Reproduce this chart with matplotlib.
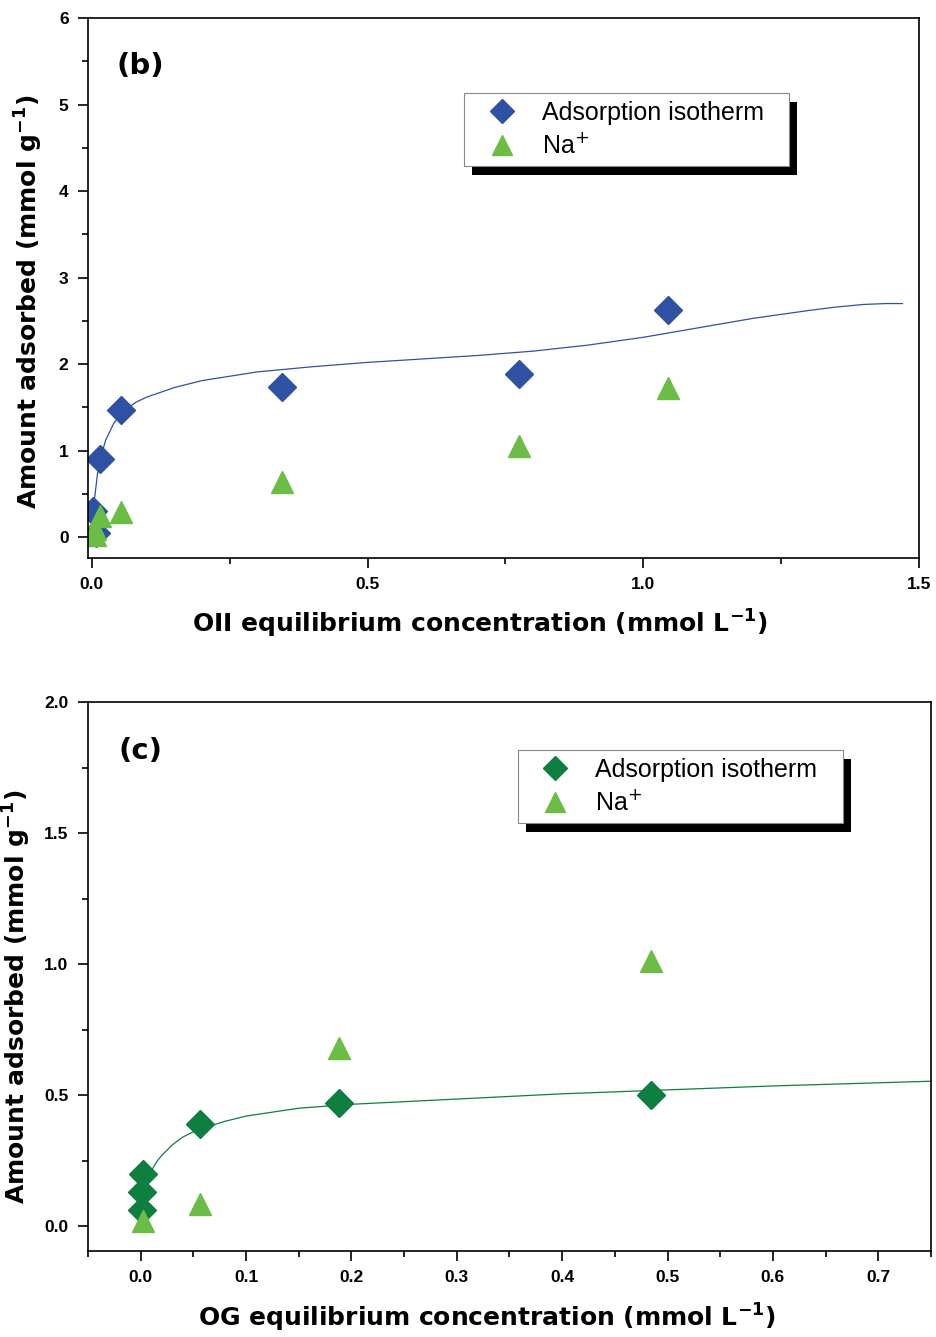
import matplotlib.pyplot as plt
from matplotlib.patches import Rectangle
from matplotlib.ticker import MultipleLocator

# panel (b): OII
b_iso_x = [1.045, 0.775, 0.345, 0.052, 0.015, 0.003, 0.008]
b_iso_y = [2.62, 1.89, 1.74, 1.47, 0.90, 0.30, 0.05]
b_na_x = [1.045, 0.775, 0.345, 0.052, 0.015, 0.006, 0.005]
b_na_y = [1.72, 1.05, 0.64, 0.29, 0.24, 0.09, 0.03]
b_fit_x = [0.002, 0.005, 0.010, 0.015, 0.025, 0.04, 0.06, 0.08, 0.10, 0.15, 0.20,
           0.30, 0.40, 0.50, 0.60, 0.70, 0.80, 0.90, 1.00, 1.10, 1.20, 1.30,
           1.35, 1.40, 1.44, 1.47]
b_fit_y = [0.15, 0.45, 0.72, 0.90, 1.12, 1.32, 1.47, 1.56, 1.62, 1.73, 1.81,
           1.91, 1.97, 2.02, 2.06, 2.10, 2.15, 2.22, 2.31, 2.42, 2.53, 2.62,
           2.66, 2.69, 2.70, 2.70]

# panel (c): OG
c_iso_x = [0.484, 0.188, 0.056, 0.002, 0.001, 0.001]
c_iso_y = [0.50, 0.47, 0.39, 0.20, 0.13, 0.06]
c_na_x = [0.484, 0.188, 0.056, 0.002]
c_na_y = [1.01, 0.68, 0.085, 0.02]
c_fit_x = [0.010, 0.015, 0.02, 0.03, 0.04, 0.05, 0.06, 0.08, 0.10, 0.15, 0.20,
           0.30, 0.40, 0.50, 0.60, 0.75]
c_fit_y = [0.21, 0.245, 0.27, 0.31, 0.34, 0.36, 0.375, 0.40, 0.42, 0.45, 0.465,
           0.485, 0.505, 0.52, 0.535, 0.553]

blue = '#2f51a3'
dkgreen = '#0f7f3f'
ltgreen = '#6bbd45'

fig = plt.figure(figsize=(9.37, 13.37), dpi=100)
ax1 = fig.add_axes([0.0939, 0.5827, 0.8869, 0.4038])
ax2 = fig.add_axes([0.0939, 0.0643, 0.8997, 0.4106])

labfont = dict(family='DejaVu Sans', weight='bold', size=18)


def style(ax):
    for s in ax.spines.values():
        s.set_linewidth(1.2)
    ax.tick_params(which='both', direction='out', top=False, right=False, width=1.2)
    ax.tick_params(which='major', length=7, pad=7)
    ax.tick_params(which='minor', length=4)
    for lab in ax.get_xticklabels() + ax.get_yticklabels():
        lab.set_family('Liberation Sans')
        lab.set_fontweight('bold')
        lab.set_fontsize(12.5)


def add_legend(ax, h, anchor):
    leg = ax.legend(h, ['Adsorption isotherm', 'Na$^{+}$'], loc='upper left',
                    bbox_to_anchor=anchor, borderaxespad=0, frameon=False,
                    borderpad=0.3, handletextpad=0.4, labelspacing=0.35,
                    handlelength=2.4, markerscale=0.85,
                    prop={'family': 'Liberation Sans', 'size': 18})
    fig.canvas.draw()
    bb = leg.get_window_extent().transformed(ax.transAxes.inverted())
    extra = 18 / ax.bbox.width
    dx = 8 / ax.bbox.width
    dy = 9 / ax.bbox.height
    w = bb.width + extra
    ax.add_patch(Rectangle((bb.x0 + dx, bb.y0 - dy), w, bb.height,
                           transform=ax.transAxes, facecolor='black',
                           edgecolor='none', zorder=4.8, clip_on=False))
    ax.add_patch(Rectangle((bb.x0, bb.y0), w, bb.height,
                           transform=ax.transAxes, facecolor='white',
                           edgecolor='#888888', lw=0.8, zorder=4.9, clip_on=False))


# (b)
ax1.plot(b_fit_x, b_fit_y, color=blue, lw=0.9)
d1, = ax1.plot(b_iso_x, b_iso_y, 'D', color=blue, ms=14, ls='none')
t1, = ax1.plot(b_na_x, b_na_y, '^', color=ltgreen, ms=16.5, ls='none')
ax1.set_xlim(-0.007, 1.5)
ax1.set_ylim(-0.24, 6)
ax1.xaxis.set_major_locator(MultipleLocator(0.5))
ax1.xaxis.set_minor_locator(MultipleLocator(0.25))
ax1.yaxis.set_major_locator(MultipleLocator(1))
ax1.yaxis.set_minor_locator(MultipleLocator(0.5))
ax1.set_xticks([0, 0.5, 1.0, 1.5])
ax1.set_xticklabels(['0.0', '0.5', '1.0', '1.5'])
ax1.set_xlabel('OII equilibrium concentration (mmol L$^{\\mathbf{-1}}$)', **labfont)
ax1.set_ylabel('Amount adsorbed (mmol g$^{\\mathbf{-1}}$)', **labfont)
ax1.xaxis.set_label_coords(0.472, -0.092)
ax1.yaxis.set_label_coords(-0.052, 0.474)
ax1.text(0.063, 0.911, '(b)', transform=ax1.transAxes, ha='center', va='center',
         family='DejaVu Sans', weight='bold', size=21)
style(ax1)
add_legend(ax1, [d1, t1], (0.4525, 0.861))

# (c)
ax2.plot(c_fit_x, c_fit_y, color=dkgreen, lw=0.9)
d2, = ax2.plot(c_iso_x, c_iso_y, 'D', color=dkgreen, ms=14, ls='none')
t2, = ax2.plot(c_na_x, c_na_y, '^', color=ltgreen, ms=16.5, ls='none')
ax2.set_xlim(-0.05, 0.75)
ax2.set_ylim(-0.095, 2.0)
ax2.xaxis.set_major_locator(MultipleLocator(0.1))
ax2.xaxis.set_minor_locator(MultipleLocator(0.05))
ax2.yaxis.set_major_locator(MultipleLocator(0.5))
ax2.yaxis.set_minor_locator(MultipleLocator(0.25))
ax2.set_xticks([0, 0.1, 0.2, 0.3, 0.4, 0.5, 0.6, 0.7])
ax2.set_xticklabels(['0.0', '0.1', '0.2', '0.3', '0.4', '0.5', '0.6', '0.7'])
ax2.set_yticks([0, 0.5, 1.0, 1.5, 2.0])
ax2.set_yticklabels(['0.0', '0.5', '1.0', '1.5', '2.0'])
ax2.set_xlabel('OG equilibrium concentration (mmol L$^{\\mathbf{-1}}$)', **labfont)
ax2.set_ylabel('Amount adsorbed (mmol g$^{\\mathbf{-1}}$)', **labfont)
ax2.xaxis.set_label_coords(0.473, -0.092)
ax2.yaxis.set_label_coords(-0.065, 0.463)
ax2.text(0.062, 0.911, '(c)', transform=ax2.transAxes, ha='center', va='center',
         family='DejaVu Sans', weight='bold', size=21)
style(ax2)
add_legend(ax2, [d2, t2], (0.510, 0.9126))

fig.savefig('out.png', dpi=100)
